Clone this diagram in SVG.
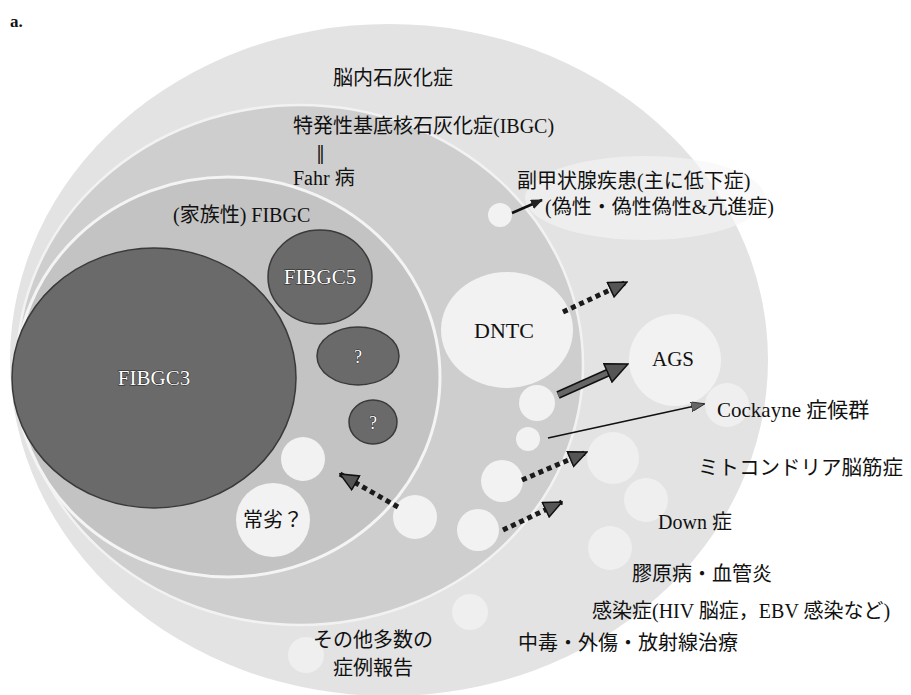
<svg xmlns="http://www.w3.org/2000/svg" width="911" height="695" viewBox="0 0 911 695">
<style>
.t{font-family:"Liberation Serif","Noto Sans CJK JP",serif;font-size:20px;fill:#111}
.w{font-family:"Liberation Serif",serif;font-size:21px;fill:#fff;stroke:#222;stroke-width:0.9px;paint-order:stroke}
.dark{fill:#6a6a6a;stroke:#3a3a3a;stroke-width:1.5}
.wc{fill:#f2f2f2}
.fc{fill:#f4f4f4;opacity:0.7}
.dot{fill:none;stroke:#1a1a1a;stroke-width:5;stroke-dasharray:5 4}
</style>
<defs>
<marker id="hd" viewBox="0 0 20 18" refX="19" refY="9" markerWidth="20" markerHeight="18" markerUnits="userSpaceOnUse" orient="auto">
<path d="M1,1 L19,9 L1,17 Z" fill="#555" stroke="#111" stroke-width="1.5"/>
</marker>
<marker id="hb" viewBox="0 0 24 22" refX="23" refY="11" markerWidth="24" markerHeight="22" markerUnits="userSpaceOnUse" orient="auto">
<path d="M1,1 L23,11 L1,21 Z" fill="#555" stroke="#111" stroke-width="1.5"/>
</marker>
<marker id="ht" viewBox="0 0 14 10" refX="13" refY="5" markerWidth="14" markerHeight="10" markerUnits="userSpaceOnUse" orient="auto">
<path d="M0,0 L14,5 L0,10 Z" fill="#666" stroke="#222" stroke-width="0.8"/>
</marker>
<marker id="hs" viewBox="0 0 12 10" refX="11" refY="5" markerWidth="12" markerHeight="10" markerUnits="userSpaceOnUse" orient="auto">
<path d="M0,0 L12,5 L0,10 Z" fill="#222"/>
</marker>
</defs>
<rect width="911" height="695" fill="#fff"/>
<text x="10" y="27" style="font-family:'Liberation Serif',serif;font-size:17px;font-weight:bold;fill:#111">a.</text>

<g id="brain-calcification">
<ellipse cx="389" cy="360" rx="379" ry="336" fill="#e3e3e3"/>
<ellipse cx="645" cy="198" rx="120" ry="42" fill="#f5f5f5" opacity="0.6"/>
<text class="t" x="333" y="85">脳内石灰化症</text>
</g>

<g id="ibgc">
<ellipse cx="300" cy="365" rx="283" ry="260" fill="#cecece" stroke="#f2f2f2" stroke-width="2.5"/>
</g>

<g id="fibgc">
<ellipse cx="228" cy="377" rx="212" ry="200" fill="#c3c3c3" stroke="#f4f4f4" stroke-width="3"/>
<text class="t" x="173" y="222">(家族性) FIBGC</text>
</g>

<g id="ibgc-label">
<text class="t" x="293" y="133">特発性基底核石灰化症(IBGC)</text>
<text x="316" y="159" style="font-family:'DejaVu Serif',serif;font-size:18px;fill:#111">‖</text>
<text class="t" x="293" y="185">Fahr 病</text>
</g>

<g id="fibgc3">
<ellipse class="dark" cx="154" cy="378" rx="142" ry="130"/>
<text class="w" x="154" y="385" text-anchor="middle">FIBGC3</text>
</g>
<g id="fibgc5">
<ellipse class="dark" cx="320" cy="277" rx="52" ry="47"/>
<text class="w" x="320" y="284" text-anchor="middle">FIBGC5</text>
</g>
<g id="unknown1">
<ellipse class="dark" cx="358" cy="356" rx="41" ry="29"/>
<text class="w" x="358" y="363" text-anchor="middle" style="font-size:18px">?</text>
</g>
<g id="unknown2">
<ellipse class="dark" cx="373" cy="422" rx="24" ry="22"/>
<text class="w" x="373" y="429" text-anchor="middle" style="font-size:18px">?</text>
</g>
<g id="small-circle-a"><circle class="wc" cx="303" cy="459" r="22"/></g>
<g id="ar-recessive">
<circle class="wc" cx="273" cy="520" r="37"/>
<text class="t" x="273" y="527" text-anchor="middle">常劣？</text>
</g>

<g id="dntc">
<ellipse class="wc" cx="507" cy="330" rx="66" ry="58"/>
<text class="t" x="504" y="338" text-anchor="middle" style="font-size:22px">DNTC</text>
</g>
<g id="small-circles">
<circle class="wc" cx="500" cy="215" r="12"/>
<circle class="wc" cx="537" cy="403" r="18"/>
<circle class="wc" cx="528" cy="439" r="12"/>
<circle class="wc" cx="502" cy="481" r="21"/>
<circle class="wc" cx="478" cy="530" r="21"/>
<circle class="wc" cx="415" cy="517" r="22"/>
<circle class="fc" cx="613" cy="458" r="26"/>
<circle class="fc" cx="646" cy="500" r="22"/>
<circle class="fc" cx="610" cy="548" r="22"/>
<circle class="fc" cx="727" cy="405" r="22"/>
<circle class="fc" cx="470" cy="612" r="18"/>
<circle class="fc" cx="306" cy="655" r="18"/>
</g>
<g id="parathyroid">
<text class="t" x="517" y="188">副甲状腺疾患(主に低下症)</text>
<text class="t" x="545" y="214">(偽性・偽性偽性&amp;亢進症)</text>
</g>
<g id="ags">
<circle class="wc" cx="675" cy="360" r="46"/>
<text class="t" x="673" y="366" text-anchor="middle" style="font-size:21px">AGS</text>
</g>
<g id="cockayne"><text class="t" x="717" y="417" style="font-size:21px">Cockayne 症候群</text></g>
<g id="mito"><text class="t" x="698" y="475" style="font-size:20.5px">ミトコンドリア脳筋症</text></g>
<g id="down"><text class="t" x="658" y="529">Down 症</text></g>
<g id="collagen"><text class="t" x="632" y="581">膠原病・血管炎</text></g>
<g id="infection"><text class="t" x="592" y="618">感染症(HIV 脳症，EBV 感染など)</text></g>
<g id="toxic"><text class="t" x="518" y="650">中毒・外傷・放射線治療</text></g>
<g id="others">
<text class="t" x="313" y="647">その他多数の</text>
<text class="t" x="333" y="675">症例報告</text>
</g>

<g id="connectors">
<line x1="512" y1="213" x2="542" y2="200" stroke="#111" stroke-width="2.5" marker-end="url(#hs)"/>
<line class="dot" x1="563" y1="312" x2="627" y2="282" marker-end="url(#hd)"/>
<line x1="558" y1="395" x2="614" y2="370" stroke="#111" stroke-width="8"/>
<line x1="558" y1="395" x2="614" y2="370" stroke="#666" stroke-width="5"/>
<line x1="610" y1="372" x2="628" y2="364" stroke="none" marker-end="url(#hb)"/>
<line x1="548" y1="438" x2="704" y2="404" stroke="#111" stroke-width="1.6" marker-end="url(#ht)"/>
<line class="dot" x1="522" y1="480" x2="587" y2="452" marker-end="url(#hd)"/>
<line class="dot" x1="503" y1="530" x2="562" y2="502" marker-end="url(#hd)"/>
<line class="dot" x1="398" y1="507" x2="340" y2="474" marker-end="url(#hd)"/>
</g>
</svg>
